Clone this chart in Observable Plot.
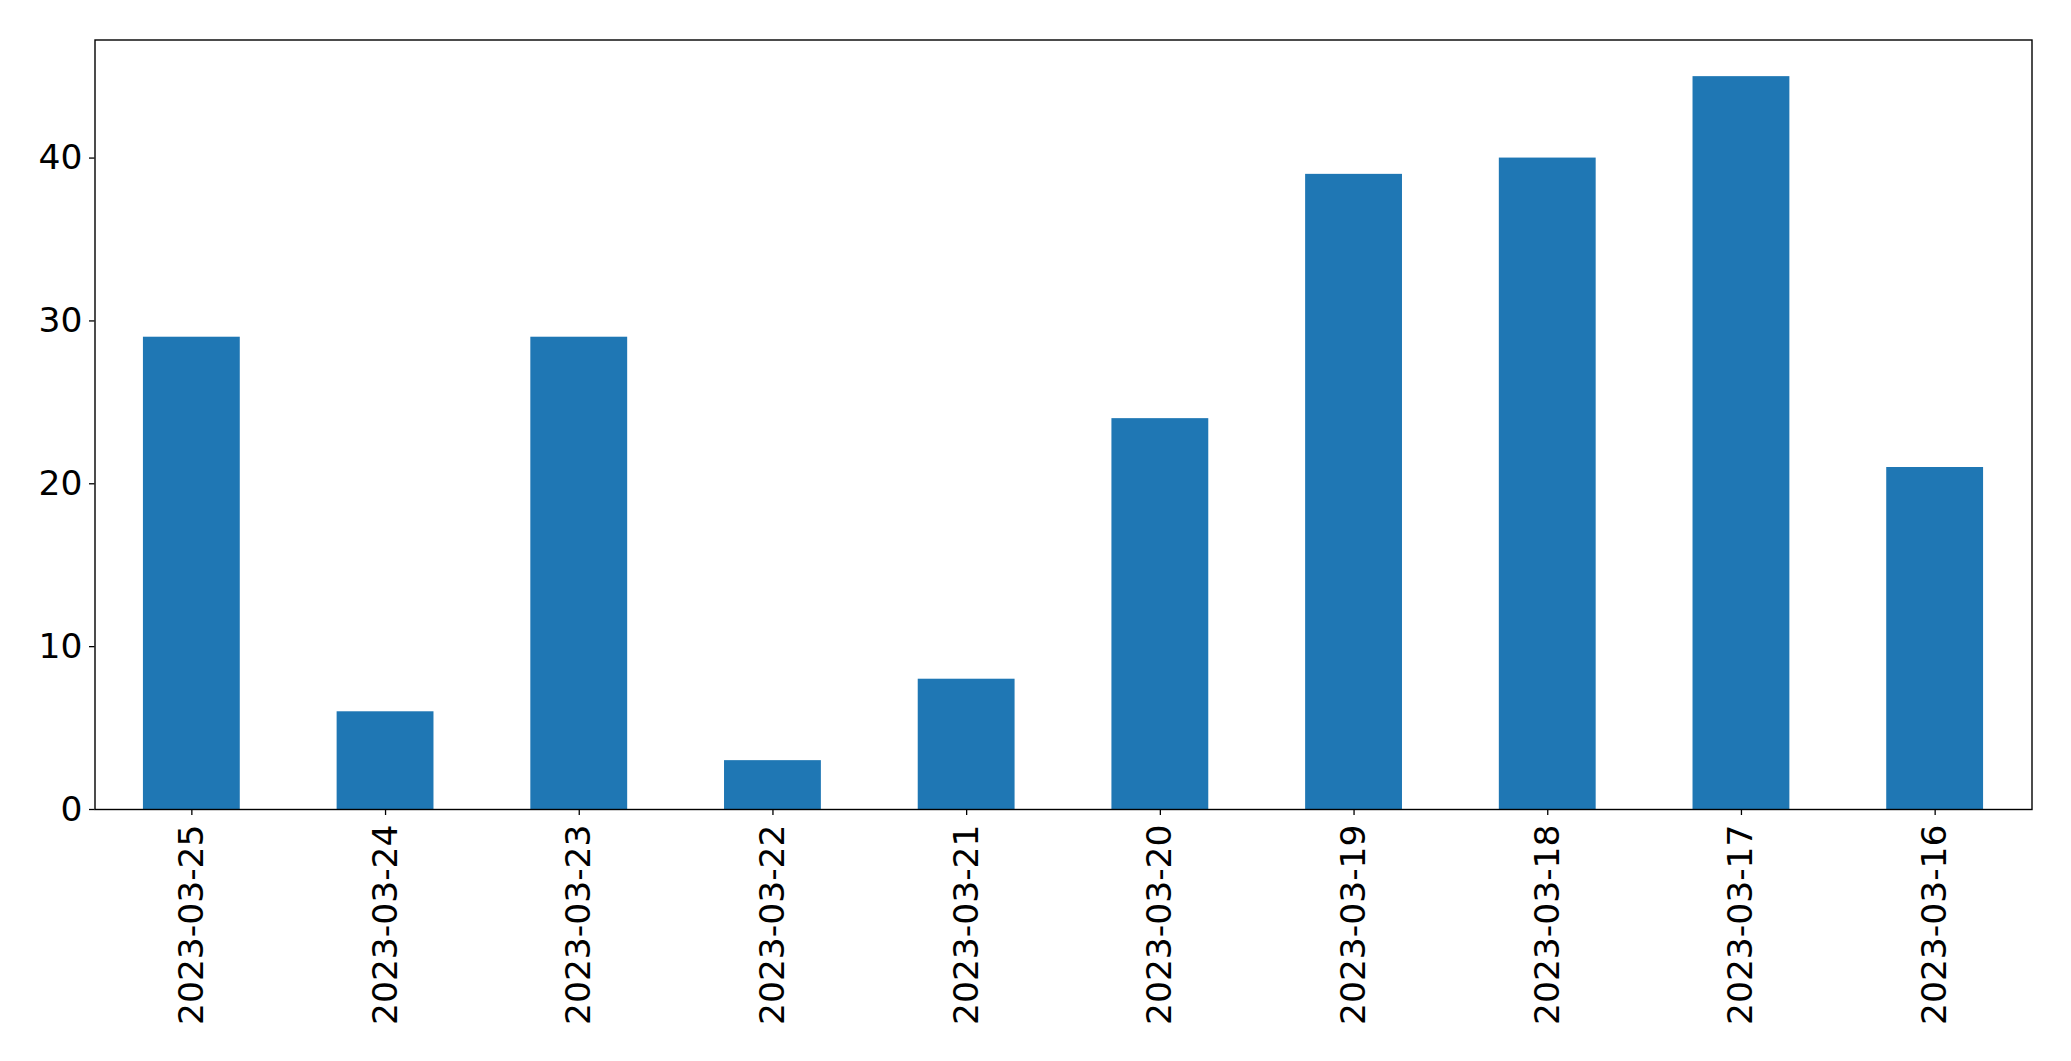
<!DOCTYPE html>
<html>
<head>
<meta charset="utf-8">
<script src="https://cdn.jsdelivr.net/npm/d3@7"></script>
<script src="https://cdn.jsdelivr.net/npm/@observablehq/plot@0.6"></script>
<style>
  html, body { margin: 0; padding: 0; background: #fff; }
  #chart svg { display: block; }
</style>
</head>
<body>
<div id="chart"></div>
<script>
const dates = ["2023-03-25","2023-03-24","2023-03-23","2023-03-22","2023-03-21","2023-03-20","2023-03-19","2023-03-18","2023-03-17","2023-03-16"];
const counts = [29, 6, 29, 3, 8, 24, 39, 40, 45, 21];
const yTicks = [0, 10, 20, 30, 40];

const data = dates.map((d, i) => ({date: d, count: counts[i]}));

const chart = Plot.plot({
  width: 2071,
  height: 1061,
  marginLeft: 94.5,
  marginRight: 39.5,
  marginTop: 39.5,
  marginBottom: 252,
  style: {fontFamily: "'DejaVu Sans', sans-serif", fontSize: "34.5px", color: "#000", background: "#fff"},
  x: {domain: dates, paddingInner: 0.5, paddingOuter: 0.25, round: false, label: null},
  y: {domain: [0, 47.25], label: null},
  marks: [
    Plot.barY(data, {x: "date", y: "count", fill: "#1f77b4"}),
    Plot.frame({stroke: "#000", strokeWidth: 1.4}),
    Plot.axisY({ticks: yTicks, tickSize: 5.5, tickPadding: 7, fontSize: 34.5, label: null, stroke: "#000", strokeWidth: 1.3, tickFormat: d => String(d)}),
    Plot.axisX({tickSize: 6, tickPadding: 9, tickRotate: -90, fontSize: 34.5, label: null, stroke: "#000", strokeWidth: 1.3})
  ]
});
document.getElementById("chart").appendChild(chart);
</script>
</body>
</html>
